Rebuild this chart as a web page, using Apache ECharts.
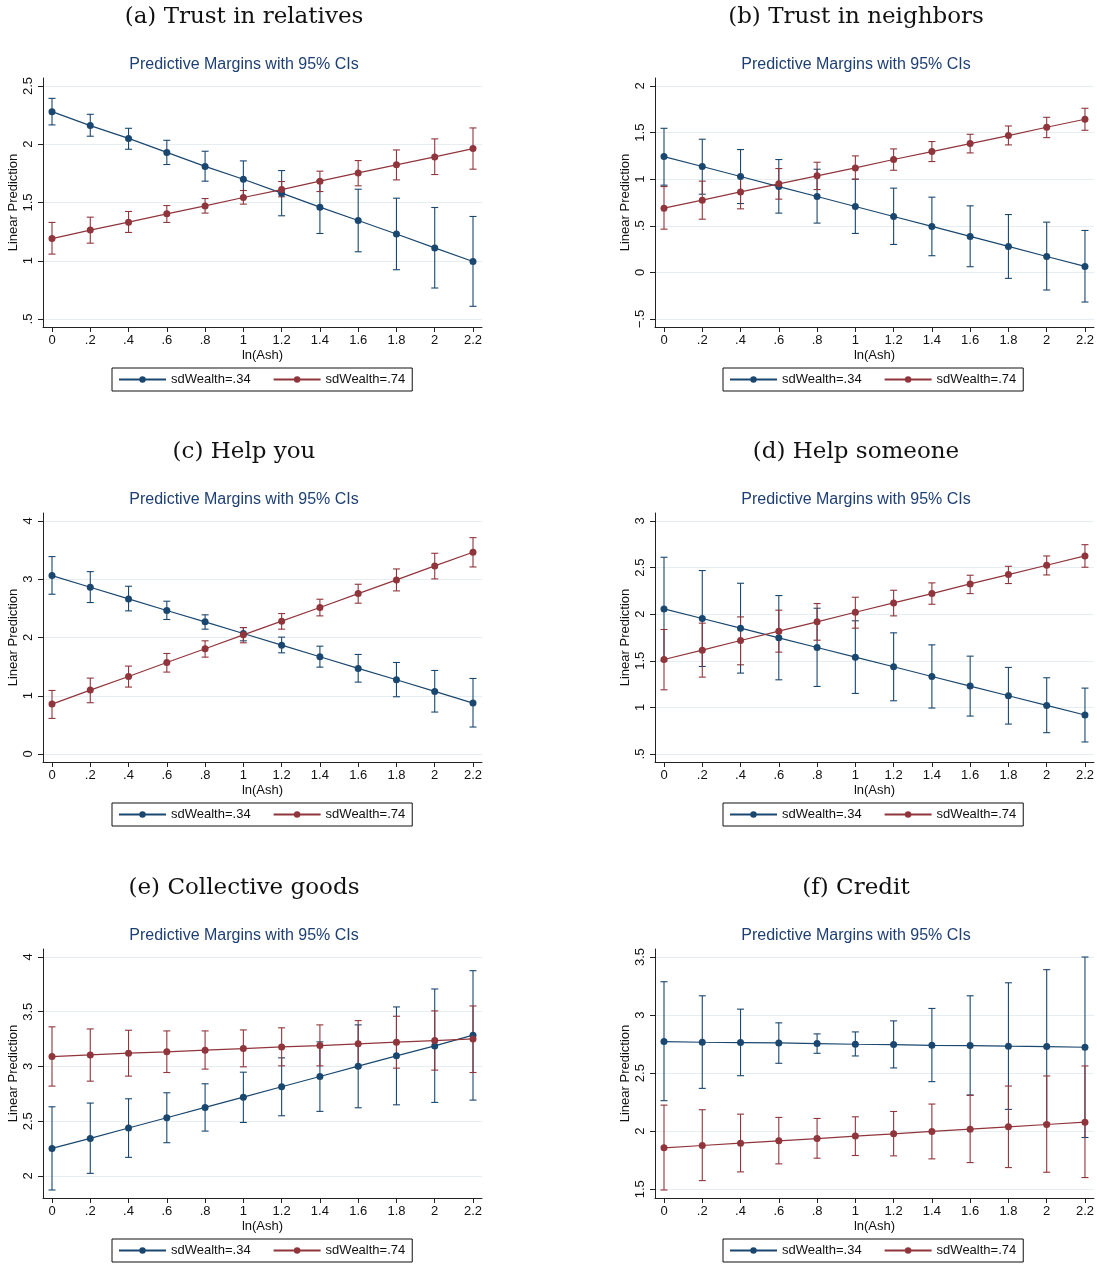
<!DOCTYPE html>
<html>
<head>
<meta charset="utf-8">
<title>Predictive margins</title>
<script src="https://cdn.jsdelivr.net/npm/echarts@6/dist/echarts.min.js"></script>
<style>
  html, body { margin: 0; padding: 0; background: #fff; }
  #main { width: 1097px; height: 1265px; }
</style>
</head>
<body>
<div id="main"></div>
<script>
// x categories (ln(Ash)) and legend names
const xVals = [0, 0.2, 0.4, 0.6, 0.8, 1, 1.2, 1.4, 1.6, 1.8, 2, 2.2];
const groupNames = ['sdWealth=.34', 'sdWealth=.74'];
const panelTitles = ['(a) Trust in relatives', '(b) Trust in neighbors', '(c) Help you',
  '(d) Help someone', '(e) Collective goods', '(f) Credit'];
const subTitle = 'Predictive Margins with 95% CIs';

// (a) Trust in relatives
const aTicks = [0.5, 1, 1.5, 2, 2.5];
const aBlueMean = [2.28, 2.16, 2.05, 1.93, 1.81, 1.70, 1.58, 1.46, 1.345, 1.23, 1.11, 0.994];
const aBlueHi = [2.394, 2.257, 2.137, 2.034, 1.94, 1.857, 1.774, 1.69, 1.614, 1.537, 1.457, 1.38];
const aBlueLo = [2.166, 2.069, 1.957, 1.826, 1.683, 1.54, 1.386, 1.234, 1.077, 0.923, 0.766, 0.609];
const aRedMean = [1.19, 1.263, 1.331, 1.403, 1.471, 1.543, 1.611, 1.683, 1.754, 1.823, 1.891, 1.963];
const aRedHi = [1.329, 1.374, 1.423, 1.474, 1.534, 1.603, 1.68, 1.769, 1.86, 1.951, 2.046, 2.14];
const aRedLo = [1.057, 1.151, 1.243, 1.329, 1.409, 1.486, 1.549, 1.594, 1.643, 1.694, 1.74, 1.786];

// (b) Trust in neighbors
const bTicks = [-0.5, 0, 0.5, 1, 1.5, 2];
const bBlueMean = [1.243, 1.136, 1.029, 0.921, 0.814, 0.707, 0.6, 0.493, 0.386, 0.279, 0.171, 0.064];
const bBlueHi = [1.546, 1.429, 1.318, 1.211, 1.107, 1.0, 0.904, 0.807, 0.714, 0.621, 0.539, 0.45];
const bBlueLo = [0.936, 0.839, 0.739, 0.636, 0.529, 0.418, 0.3, 0.179, 0.061, -0.064, -0.189, -0.318];
const bRedMean = [0.689, 0.775, 0.864, 0.95, 1.036, 1.121, 1.211, 1.296, 1.382, 1.468, 1.557, 1.643];
const bRedHi = [0.921, 0.979, 1.029, 1.114, 1.182, 1.25, 1.325, 1.404, 1.482, 1.571, 1.664, 1.761];
const bRedLo = [0.464, 0.571, 0.682, 0.786, 0.889, 1.0, 1.096, 1.189, 1.282, 1.368, 1.446, 1.525];

// (c) Help you
const cTicks = [0, 1, 2, 3, 4];
const cBlueMean = [3.063, 2.863, 2.663, 2.463, 2.269, 2.069, 1.869, 1.669, 1.469, 1.274, 1.074, 0.874];
const cBlueHi = [3.389, 3.131, 2.88, 2.623, 2.389, 2.171, 2.006, 1.851, 1.709, 1.571, 1.434, 1.297];
const cBlueLo = [2.743, 2.6, 2.457, 2.309, 2.143, 1.943, 1.737, 1.491, 1.234, 0.983, 0.72, 0.463];
const cRedMean = [0.857, 1.097, 1.331, 1.571, 1.806, 2.046, 2.28, 2.514, 2.754, 2.989, 3.229, 3.463];
const cRedHi = [1.091, 1.303, 1.509, 1.726, 1.943, 2.171, 2.411, 2.657, 2.914, 3.177, 3.446, 3.714];
const cRedLo = [0.611, 0.88, 1.149, 1.406, 1.663, 1.909, 2.143, 2.371, 2.589, 2.8, 3.006, 3.211];

// (d) Help someone
const dTicks = [0.5, 1, 1.5, 2, 2.5, 3];
const dBlueMean = [2.057, 1.954, 1.85, 1.746, 1.643, 1.539, 1.436, 1.332, 1.229, 1.125, 1.021, 0.918];
const dBlueHi = [2.611, 2.468, 2.332, 2.2, 2.064, 1.929, 1.8, 1.671, 1.55, 1.429, 1.318, 1.207];
const dBlueLo = [1.50, 1.439, 1.368, 1.296, 1.225, 1.15, 1.071, 0.993, 0.907, 0.821, 0.729, 0.629];
const dRedMean = [1.514, 1.614, 1.718, 1.818, 1.918, 2.021, 2.121, 2.221, 2.325, 2.425, 2.525, 2.625];
const dRedHi = [1.836, 1.904, 1.971, 2.043, 2.114, 2.182, 2.257, 2.336, 2.418, 2.514, 2.625, 2.746];
const dRedLo = [1.189, 1.325, 1.457, 1.593, 1.721, 1.85, 1.982, 2.107, 2.221, 2.329, 2.421, 2.504];

// (e) Collective goods
const eTicks = [2, 2.5, 3, 3.5, 4];
const eBlueMean = [2.252, 2.343, 2.438, 2.532, 2.626, 2.72, 2.815, 2.909, 3.003, 3.097, 3.188, 3.286];
const eBlueHi = [2.632, 2.666, 2.705, 2.76, 2.842, 2.948, 3.079, 3.225, 3.38, 3.544, 3.708, 3.875];
const eBlueLo = [1.872, 2.024, 2.17, 2.304, 2.41, 2.489, 2.55, 2.59, 2.623, 2.65, 2.672, 2.693];
const eRedMean = [3.091, 3.106, 3.122, 3.134, 3.149, 3.164, 3.179, 3.191, 3.207, 3.222, 3.237, 3.252];
const eRedHi = [3.362, 3.343, 3.331, 3.325, 3.325, 3.334, 3.353, 3.38, 3.419, 3.459, 3.508, 3.553];
const eRedLo = [2.821, 2.866, 2.912, 2.945, 2.976, 2.997, 3.006, 3.006, 2.994, 2.985, 2.967, 2.945];

// (f) Credit
const fTicks = [1.5, 2, 2.5, 3, 3.5];
const fBlueMean = [2.772, 2.766, 2.763, 2.76, 2.755, 2.749, 2.746, 2.74, 2.737, 2.732, 2.729, 2.723];
const fBlueHi = [3.287, 3.166, 3.051, 2.933, 2.838, 2.855, 2.95, 3.057, 3.166, 3.278, 3.391, 3.5];
const fBlueLo = [2.263, 2.369, 2.478, 2.585, 2.671, 2.648, 2.545, 2.427, 2.312, 2.188, 2.07, 1.946];
const fRedMean = [1.857, 1.877, 1.897, 1.917, 1.937, 1.958, 1.978, 1.998, 2.018, 2.038, 2.058, 2.078];
const fRedHi = [2.225, 2.185, 2.147, 2.119, 2.11, 2.124, 2.17, 2.234, 2.309, 2.389, 2.476, 2.562];
const fRedLo = [1.494, 1.575, 1.65, 1.719, 1.768, 1.791, 1.788, 1.762, 1.73, 1.687, 1.647, 1.601];

const panels = [
  { ticks: aTicks, blue: [aBlueMean, aBlueLo, aBlueHi], red: [aRedMean, aRedLo, aRedHi] },
  { ticks: bTicks, blue: [bBlueMean, bBlueLo, bBlueHi], red: [bRedMean, bRedLo, bRedHi] },
  { ticks: cTicks, blue: [cBlueMean, cBlueLo, cBlueHi], red: [cRedMean, cRedLo, cRedHi] },
  { ticks: dTicks, blue: [dBlueMean, dBlueLo, dBlueHi], red: [dRedMean, dRedLo, dRedHi] },
  { ticks: eTicks, blue: [eBlueMean, eBlueLo, eBlueHi], red: [eRedMean, eRedLo, eRedHi] },
  { ticks: fTicks, blue: [fBlueMean, fBlueLo, fBlueHi], red: [fRedMean, fRedLo, fRedHi] }
];

const NAVY = '#1a476f';
const MAROON = '#90353b';
const SANS = 'Liberation Sans, Arial, sans-serif';

// layout
const colLeft = [43, 655];
const colCenter = [244, 856];
const legendLeft = [112, 723];
const rowTop = [78, 513, 949];
const gridW = 439;
const gridH = 249;
const padPx = 8;

// stata style tick label: .5 instead of 0.5
function stataNum(v) {
  if (v === 0) return '0';
  let s = String(Math.abs(v));
  if (s.indexOf('0.') === 0) s = s.slice(1);
  return (v < 0 ? '\u2212' : '') + s;
}

function renderCI(params, api) {
  const x = api.value(0);
  const lo = api.coord([x, api.value(1)]);
  const hi = api.coord([x, api.value(2)]);
  const w = 3.5;
  const style = { stroke: api.visual('color'), lineWidth: 1.1 };
  return {
    type: 'group',
    children: [
      { type: 'line', shape: { x1: hi[0], y1: hi[1], x2: lo[0], y2: lo[1] }, style: style },
      { type: 'line', shape: { x1: hi[0] - w, y1: hi[1], x2: hi[0] + w, y2: hi[1] }, style: style },
      { type: 'line', shape: { x1: lo[0] - w, y1: lo[1], x2: lo[0] + w, y2: lo[1] }, style: style }
    ]
  };
}

const grid = [], xAxis = [], yAxis = [], series = [], legend = [], graphic = [];

panels.forEach(function (p, i) {
  const col = i % 2;
  const row = Math.floor(i / 2);
  const top = rowTop[row];

  grid.push({ left: colLeft[col], top: top, width: gridW, height: gridH });

  const xPad = 2.2 * 9 / (gridW - 18);
  xAxis.push({
    gridIndex: i, type: 'value', min: -xPad, max: 2.2 + xPad,
    name: 'ln(Ash)', nameLocation: 'middle', nameGap: 22,
    nameTextStyle: { fontFamily: SANS, fontSize: 13, color: '#111' },
    axisLine: { onZero: false, lineStyle: { color: '#222', width: 1 } },
    axisTick: { length: 5, customValues: xVals, lineStyle: { color: '#222' } },
    axisLabel: { customValues: xVals, formatter: stataNum, margin: 7,
      fontFamily: SANS, fontSize: 13, color: '#111' },
    splitLine: { show: false }
  });

  const allLo = p.blue[1].concat(p.red[1]);
  const allHi = p.blue[2].concat(p.red[2]);
  const lo = Math.min(p.ticks[0], Math.min.apply(null, allLo));
  const hi = Math.max(p.ticks[p.ticks.length - 1], Math.max.apply(null, allHi));
  const yPad = (hi - lo) * padPx / (gridH - 2 * padPx);
  yAxis.push({
    gridIndex: i, type: 'value', min: lo - yPad, max: hi + yPad,
    name: 'Linear Prediction', nameLocation: 'middle', nameGap: 23,
    nameTextStyle: { fontFamily: SANS, fontSize: 13, color: '#111' },
    axisLine: { show: true, onZero: false, lineStyle: { color: '#222', width: 1 } },
    axisTick: { show: true, length: 5, customValues: p.ticks, lineStyle: { color: '#222' } },
    axisLabel: { customValues: p.ticks, formatter: stataNum, rotate: 90, margin: 8,
      fontFamily: SANS, fontSize: 13, color: '#111' },
    splitLine: { show: true, lineStyle: { color: '#e6eef1', width: 1 } }
  });

  [p.blue, p.red].forEach(function (g, k) {
    series.push({
      name: 'ci' + k, type: 'custom', xAxisIndex: i, yAxisIndex: i,
      itemStyle: { color: k === 0 ? NAVY : MAROON },
      encode: { x: 0, y: [1, 2] },
      data: xVals.map(function (x, j) { return [x, g[1][j], g[2][j]]; }),
      renderItem: renderCI, silent: true, z: 2
    });
  });
  [p.blue, p.red].forEach(function (g, k) {
    const c = k === 0 ? NAVY : MAROON;
    series.push({
      name: groupNames[k], type: 'line', xAxisIndex: i, yAxisIndex: i,
      data: xVals.map(function (x, j) { return [x, g[0][j]]; }),
      symbol: 'circle', symbolSize: 7, showSymbol: true,
      lineStyle: { color: c, width: 1.2 }, itemStyle: { color: c },
      silent: true, z: 3
    });
  });

  legend.push({
    data: groupNames, left: legendLeft[col], top: top + 290,
    orient: 'horizontal', selectedMode: false,
    itemWidth: 47, itemHeight: 8, itemGap: 22,
    padding: [5, 7, 5, 6],
    borderColor: '#111', borderWidth: 1, backgroundColor: '#fff',
    textStyle: { fontFamily: SANS, fontSize: 13, color: '#111' }
  });

  graphic.push({
    type: 'text', x: colCenter[col], y: top - 61,
    style: { text: panelTitles[i], textAlign: 'center', textVerticalAlign: 'middle',
      font: '23px "DejaVu Serif", "Liberation Serif", serif', fill: '#111' }
  });
  graphic.push({
    type: 'text', x: colCenter[col], y: top - 13,
    style: { text: subTitle, textAlign: 'center', textVerticalAlign: 'middle',
      font: '16px ' + SANS, fill: '#1e3f73' }
  });
});

const myChart = echarts.init(document.getElementById('main'));
myChart.setOption({
  backgroundColor: '#fff',
  animation: false,
  grid: grid,
  xAxis: xAxis,
  yAxis: yAxis,
  legend: legend,
  graphic: graphic,
  series: series
});

window.addEventListener('resize', function () {
  myChart.resize();
});
</script>
</body>
</html>
